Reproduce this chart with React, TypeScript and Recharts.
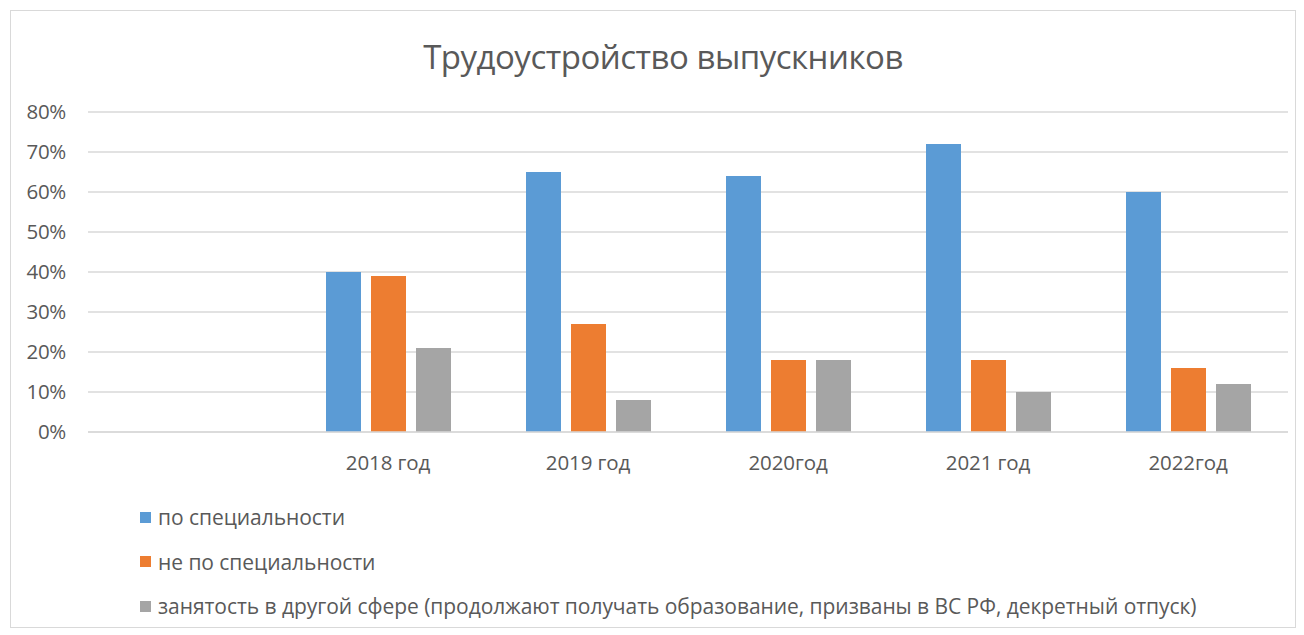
import { BarChart, Bar, XAxis, YAxis, CartesianGrid } from 'recharts';

const categories = ['', '2018 год', '2019 год', '2020год', '2021 год', '2022год'];
const bySpecialty = [null, 40, 65, 64, 72, 60];
const notBySpecialty = [null, 39, 27, 18, 18, 16];
const otherSphere = [null, 21, 8, 18, 10, 12];
const yTicks = [0, 10, 20, 30, 40, 50, 60, 70, 80];

const series = [
  { key: 'spec', name: 'по специальности', color: '#5b9bd5', values: bySpecialty },
  { key: 'notSpec', name: 'не по специальности', color: '#ed7d31', values: notBySpecialty },
  {
    key: 'other',
    name: 'занятость в другой сфере (продолжают получать образование, призваны в ВС РФ, декретный отпуск)',
    color: '#a5a5a5',
    values: otherSphere,
  },
];

const data = categories.map((c, i) => {
  const row: Record<string, any> = { name: c };
  series.forEach((s) => {
    row[s.key] = s.values[i];
  });
  return row;
});

const font = '"Open Sans", sans-serif';
const textColor = '#595959';

export default function App() {
  return (
    <div
      style={{
        position: 'absolute',
        left: 0,
        top: 0,
        width: 1304,
        height: 635,
        background: '#fff',
        fontFamily: font,
        overflow: 'hidden',
      }}
    >
      {/* chart frame */}
      <div
        style={{
          position: 'absolute',
          left: 10,
          top: 10,
          width: 1286,
          height: 618,
          border: '1px solid #d9d9d9',
          boxSizing: 'border-box',
        }}
      />
      <div
        style={{
          position: 'absolute',
          left: 0,
          top: 34,
          width: 1326,
          textAlign: 'center',
          fontSize: 33,
          color: textColor,
          letterSpacing: -0.5,
        }}
      >
        Трудоустройство выпускников
      </div>

      <div style={{ position: 'absolute', left: 0, top: 0 }}>
        <BarChart
          width={1304}
          height={635}
          data={data}
          margin={{ top: 112, right: 16, left: 28, bottom: 163 }}
          barGap={10}
          barSize={35}
        >
          <CartesianGrid vertical={false} stroke="#d9d9d9" strokeWidth={1.5} />
          <XAxis
            dataKey="name"
            height={40}
            axisLine={{ stroke: '#d9d9d9', strokeWidth: 1.5 }}
            tickLine={false}
            tick={{ fill: textColor, fontSize: 20.5, fontFamily: font, letterSpacing: -0.1 }}
            tickMargin={17}
            interval={0}
          />
          <YAxis
            width={60}
            domain={[0, 80]}
            ticks={yTicks}
            axisLine={false}
            tickLine={false}
            tickFormatter={(v: number) => `${v}%`}
            tick={{ fill: textColor, fontSize: 20.5, fontFamily: font, letterSpacing: -0.3 }}
            tickMargin={16}
          />
          {series.map((s) => (
            <Bar key={s.key} dataKey={s.key} name={s.name} fill={s.color} isAnimationActive={false} />
          ))}
        </BarChart>
      </div>

      {/* legend */}
      <div style={{ position: 'absolute', left: 140, top: 495 }}>
        {series.map((s) => (
          <div
            key={s.key}
            style={{ display: 'flex', alignItems: 'center', height: 44.5, fontSize: 21, color: textColor, letterSpacing: -0.05 }}
          >
            <span
              style={{ display: 'inline-block', width: 11, height: 11, background: s.color, marginRight: 7 }}
            />
            <span style={{ whiteSpace: 'nowrap' }}>{s.name}</span>
          </div>
        ))}
      </div>
    </div>
  );
}
